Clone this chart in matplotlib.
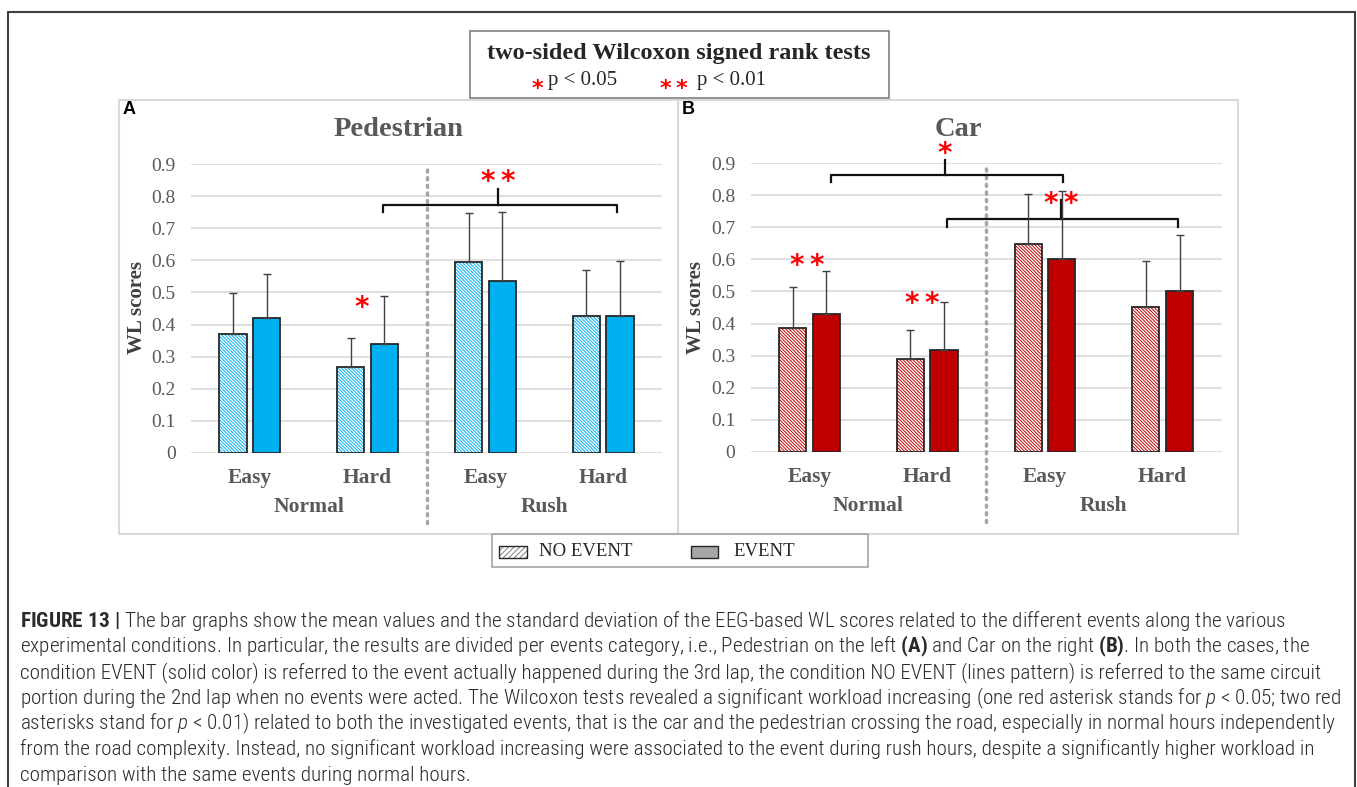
import matplotlib
matplotlib.use('Agg')
import matplotlib.pyplot as plt
from matplotlib.patches import Rectangle
from matplotlib import font_manager
import numpy as np

W, H = 1357, 787

categories = ['Easy', 'Hard', 'Easy', 'Hard']
periods = ['Normal', 'Rush']

ped_no_event = [0.370, 0.266, 0.594, 0.428]
ped_no_event_sd = [0.128, 0.091, 0.155, 0.143]
ped_event = [0.421, 0.338, 0.537, 0.428]
ped_event_sd = [0.138, 0.150, 0.215, 0.171]

car_no_event = [0.387, 0.288, 0.649, 0.451]
car_no_event_sd = [0.126, 0.091, 0.155, 0.145]
car_event = [0.429, 0.318, 0.600, 0.502]
car_event_sd = [0.136, 0.150, 0.215, 0.174]

caption_lines = [
    r"$\mathbf{FIGURE\ 13\ |}$ The bar graphs show the mean values and the standard deviation of the EEG-based WL scores related to the different events along the various",
    r"experimental conditions. In particular, the results are divided per events category, i.e., Pedestrian on the left $\mathbf{(A)}$ and Car on the right $\mathbf{(B)}$. In both the cases, the",
    r"condition EVENT (solid color) is referred to the event actually happened during the 3rd lap, the condition NO EVENT (lines pattern) is referred to the same circuit",
    r"portion during the 2nd lap when no events were acted. The Wilcoxon tests revealed a significant workload increasing (one red asterisk stands for $\mathit{p}$ < 0.05; two red",
    r"asterisks stand for $\mathit{p}$ < 0.01) related to both the investigated events, that is the car and the pedestrian crossing the road, especially in normal hours independently",
    r"from the road complexity. Instead, no significant workload increasing were associated to the event during rush hours, despite a significantly higher workload in",
    r"comparison with the same events during normal hours.",
]

names = {f.name for f in font_manager.fontManager.ttflist}
cap_font = 'Liberation Sans'
for cand in ['Roboto Condensed', 'Liberation Sans Narrow', 'Open Sans Condensed']:
    if cand in names:
        cap_font = cand
        break
serif = 'Liberation Serif'

plt.rcParams['mathtext.fontset'] = 'custom'
plt.rcParams['mathtext.rm'] = cap_font
plt.rcParams['mathtext.bf'] = cap_font + ':bold'
plt.rcParams['mathtext.it'] = cap_font + ':italic:light'
plt.rcParams['hatch.linewidth'] = 0.7

GRAY = '#595959'
RED_STAR = '#ff0000'
TWO = '*\u2009*'


def fx(px):
    return px / W


def fy(py):
    return 1 - py / H


fig = plt.figure(figsize=(W / 100, H / 100), dpi=100)


def box(x0, y0, x1, y1, ec, lw):
    fig.add_artist(Rectangle((fx(x0), fy(y1)), fx(x1) - fx(x0), fy(y0) - fy(y1),
                             transform=fig.transFigure, fill=False, ec=ec, lw=lw))


def stars(ax, x, y, s):
    ax.text(x, y, s, color=RED_STAR, fontsize=20, family='DejaVu Sans', fontweight='bold',
            ha='center', va='center', clip_on=False)


def bracket(ax, x0, x1, xm, yh, yend, ytop):
    ax.plot([x0, x0, x1, x1], [yend, yh, yh, yend], color='#111111', lw=1.6,
            clip_on=False, solid_joinstyle='round')
    ax.plot([xm, xm], [yh, ytop], color='#111111', lw=1.6, clip_on=False)


def draw_panel(ax, no_ev, no_sd, ev, ev_sd, color):
    x = np.arange(len(categories))
    off, bw = 0.143, 0.23
    ax.bar(x - off, no_ev, bw, color='white', edgecolor=color, hatch='\\' * 10,
           lw=0, zorder=2)
    ax.bar(x - off, no_ev, bw, fill=False, edgecolor='#262626', lw=1.3, zorder=3)
    ax.bar(x + off, ev, bw, color=color, edgecolor='#262626', lw=1.3, zorder=3)
    ax.errorbar(x - off, no_ev, yerr=[np.zeros(4), no_sd], fmt='none',
                ecolor='#404040', elinewidth=1, capsize=3, zorder=4)
    ax.errorbar(x + off, ev, yerr=[np.zeros(4), ev_sd], fmt='none',
                ecolor='#404040', elinewidth=1, capsize=3, zorder=4)

    ax.set_xlim(-0.5, 3.5)
    ax.set_ylim(0, 0.9)
    yt = np.round(np.arange(0, 0.95, 0.1), 1)
    ax.set_yticks(yt)
    ax.set_yticklabels([f'{v:g}' for v in yt], family=serif, fontsize=14, color=GRAY)
    ax.tick_params(axis='y', length=0, pad=11)
    ax.set_xticks([])
    ax.grid(axis='y', color='#d9d9d9', lw=1.2, zorder=0)
    ax.set_axisbelow(True)
    for s in ax.spines.values():
        s.set_visible(False)

    for i, c in enumerate(categories):
        ax.text(i, -0.08, c, ha='center', va='center', family=serif,
                fontweight='bold', fontsize=15.5, color=GRAY, clip_on=False)
    for j, p in enumerate(periods):
        ax.text(0.5 + 2 * j, -0.168, p, ha='center', va='center', family=serif,
                fontweight='bold', fontsize=15.5, color=GRAY, clip_on=False)
    ax.plot([1.5, 1.5], [-0.22, 0.89], color='#a6a6a6', lw=2.5,
            linestyle=(0, (0.6, 1.6)), dash_capstyle='round', clip_on=False)


# outer frame and panel boxes
box(8, 12, 1355, 800, '#404040', 1.5)
box(119, 100, 678, 534, '#d9d9d9', 1.5)
box(678, 100, 1238, 534, '#d9d9d9', 1.5)

# panel A - pedestrian
axA = fig.add_axes([fx(191), fy(452.7), fx(662) - fx(191), fy(164.3) - fy(452.7)])
draw_panel(axA, ped_no_event, ped_no_event_sd, ped_event, ped_event_sd, '#00b0f0')
bracket(axA, 1.13, 3.115, 2.11, 0.772, 0.752, 0.822)
stars(axA, 2.11, 0.845, TWO)
stars(axA, 0.95, 0.452, '*')

# panel B - car
axB = fig.add_axes([fx(750.5), fy(451.7), fx(1221.6) - fx(750.5), fy(163.3) - fy(451.7)])
draw_panel(axB, car_no_event, car_no_event_sd, car_event, car_event_sd, '#c00000')
bracket(axB, 0.185, 2.15, 1.15, 0.864, 0.843, 0.91)
stars(axB, 1.15, 0.93, '*')
bracket(axB, 1.166, 3.13, 2.14, 0.725, 0.702, 0.786)
stars(axB, 2.14, 0.773, TWO)
stars(axB, -0.02, 0.581, TWO)
stars(axB, 0.96, 0.46, TWO)

for xc, title in [(399, 'Pedestrian'), (958, 'Car')]:
    fig.text(fx(xc), fy(129), title, ha='center', va='center', family=serif,
             fontweight='bold', fontsize=20.5, color=GRAY)
for xl in [137, 696]:
    fig.text(fx(xl), fy(308), 'WL scores', ha='center', va='center', rotation=90,
             family=serif, fontweight='bold', fontsize=15, color='#404040')
fig.text(fx(123), fy(110), 'A', ha='left', va='center', family='Liberation Sans',
         fontweight='bold', fontsize=13, color='black')
fig.text(fx(682), fy(110), 'B', ha='left', va='center', family='Liberation Sans',
         fontweight='bold', fontsize=13, color='black')

# significance legend (top)
box(470, 31, 889, 98, '#808080', 1.2)
fig.text(fx(679), fy(54), 'two-sided Wilcoxon signed rank tests', ha='center', va='center',
         family=serif, fontweight='bold', fontsize=17.5, color='#262626')
fig.text(fx(537), fy(89), '*', ha='center', va='center', family='DejaVu Sans',
         fontweight='bold', fontsize=16, color=RED_STAR)
fig.text(fx(548), fy(81), 'p < 0.05', ha='left', va='center', family=serif,
         fontsize=15, color='#262626')
fig.text(fx(674), fy(89), TWO, ha='center', va='center', family='DejaVu Sans',
         fontweight='bold', fontsize=16, color=RED_STAR)
fig.text(fx(697), fy(81), 'p < 0.01', ha='left', va='center', family=serif,
         fontsize=15, color='#262626')

# event legend (bottom)
box(492, 534, 868, 567, '#a6a6a6', 1.2)
fig.add_artist(Rectangle((fx(499), fy(558)), fx(527) - fx(499), fy(546) - fy(558),
                         transform=fig.transFigure, facecolor='white', edgecolor='#7f7f7f',
                         hatch='//////', lw=0))
box(499, 546, 527, 558, '#262626', 1.0)
fig.text(fx(539), fy(552), 'NO EVENT', ha='left', va='center', family=serif,
         fontsize=13.5, color='#262626')
fig.add_artist(Rectangle((fx(691), fy(558)), fx(718) - fx(691), fy(546) - fy(558),
                         transform=fig.transFigure, facecolor='#a6a6a6', edgecolor='#262626',
                         lw=1.0))
fig.text(fx(733), fy(552), 'EVENT', ha='left', va='center', family=serif,
         fontsize=13.5, color='#262626')

# caption
cap = []
for i, line in enumerate(caption_lines):
    t = fig.text(fx(20), fy(621 + i * 25.7), line, ha='left', va='center',
                 family=cap_font, fontweight='light', fontsize=13, color='#2b2b2b')
    cap.append(t)
fig.canvas.draw()
r = fig.canvas.get_renderer()
w = cap[0].get_window_extent(r).width
for t in cap:
    t.set_fontsize(13 * 1260 / w)

fig.savefig('out.png', dpi=100)
